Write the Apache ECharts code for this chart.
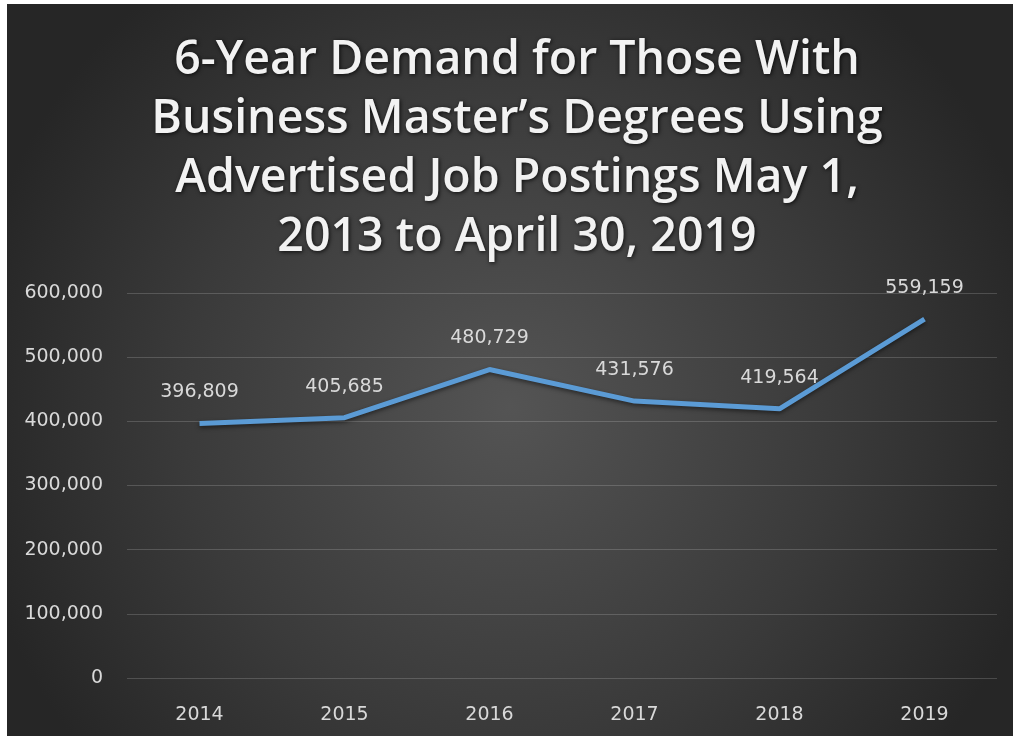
<!DOCTYPE html>
<html>
<head>
<meta charset="utf-8">
<script src="https://cdn.jsdelivr.net/npm/echarts@6/dist/echarts.min.js"></script>
<style>
  html, body { margin: 0; padding: 0; background: #ffffff; }
  #chart { position: absolute; left: 7px; top: 4px; width: 1006px; height: 732px; }
</style>
</head>
<body>
<div id="chart"></div>
<script>
const titleLines = ['6-Year Demand for Those With', 'Business Master\u2019s Degrees Using', 'Advertised Job Postings May 1,', '2013 to April 30, 2019'];
const categories = ['2014', '2015', '2016', '2017', '2018', '2019'];
const postings = [396809, 405685, 480729, 431576, 419564, 559159];

const fmt = v => Number(v).toLocaleString('en-US');
const labelFont = 'DejaVu Sans';

const chart = echarts.init(document.getElementById('chart'));
chart.setOption({
  animation: false,
  backgroundColor: {
    type: 'radial', x: 0.5, y: 0.55, r: 0.75,
    colorStops: [
      { offset: 0, color: '#545454' },
      { offset: 0.6, color: '#3a3a3a' },
      { offset: 1, color: '#262626' }
    ]
  },
  title: {
    text: titleLines.join('\n'),
    left: 505,
    top: 22,
    textAlign: 'center',
    textStyle: {
      fontFamily: 'Open Sans',
      fontWeight: 600,
      fontSize: 46.5,
      lineHeight: 59,
      color: '#f2f2f2',
      align: 'center',
      textShadowColor: 'rgba(0,0,0,0.8)',
      textShadowBlur: 4,
      textShadowOffsetX: 1,
      textShadowOffsetY: 1
    }
  },
  grid: { left: 120, right: 16, top: 289, bottom: 58 },
  xAxis: {
    type: 'category',
    data: categories,
    boundaryGap: true,
    axisLine: { show: false },
    axisTick: { show: false },
    axisLabel: { color: '#d9d9d9', fontFamily: labelFont, fontSize: 19, margin: 28 }
  },
  yAxis: {
    type: 'value',
    min: 0,
    max: 600000,
    interval: 100000,
    axisLine: { show: false },
    axisTick: { show: false },
    axisLabel: { color: '#d9d9d9', fontFamily: labelFont, fontSize: 19, margin: 24, formatter: fmt },
    splitLine: { lineStyle: { color: 'rgba(255,255,255,0.17)', width: 1 } }
  },
  series: [{
    type: 'line',
    data: postings,
    symbol: 'circle',
    symbolSize: 1,
    showSymbol: true,
    itemStyle: { color: 'rgba(0,0,0,0)' },
    lineStyle: { color: '#5b9bd5', width: 5, shadowColor: 'rgba(0,0,0,0.5)', shadowBlur: 4, shadowOffsetY: 2 },
    label: {
      show: true,
      position: 'top',
      distance: 21,
      color: '#d9d9d9',
      fontFamily: labelFont,
      fontSize: 19,
      formatter: p => fmt(p.value)
    },
    labelLayout: { hideOverlap: false }
  }]
});
</script>
</body>
</html>
